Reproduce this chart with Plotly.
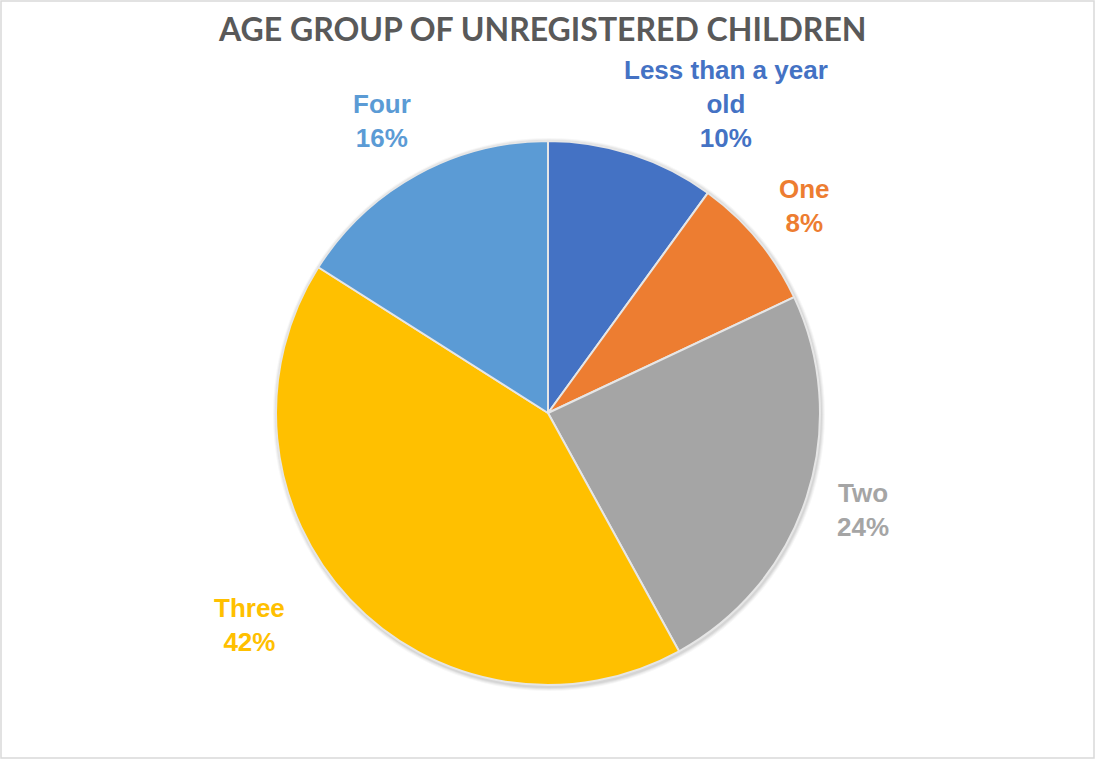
import plotly.graph_objects as go

# Age groups and their share of unregistered children (%)
categories = ["Less than a year old", "One", "Two", "Three", "Four"]
label_lines = ["Less than a year<br>old", "One", "Two", "Three", "Four"]
shares = [10, 8, 24, 42, 16]
colors = ["#4472C4", "#ED7D31", "#A5A5A5", "#FFC000", "#5B9BD5"]

W, H = 1095, 759
cx, cy, r = 548, 413, 272  # pie centre and radius in pixels

# Label anchor points (pixels) around the pie
label_pos = [(726, 104), (804, 206), (863, 510), (249, 625), (382, 121)]

fig = go.Figure()

fig.add_trace(go.Pie(
    labels=categories,
    values=shares,
    sort=False,
    direction="clockwise",
    rotation=0,
    marker=dict(colors=colors, line=dict(color="#E6E6E6", width=2)),
    textinfo="none",
    hoverinfo="label+percent",
    showlegend=False,
    domain=dict(x=[(cx - r) / W, (cx + r) / W],
                y=[1 - (cy + r) / H, 1 - (cy - r) / H]),
))

# soft drop shadow under the pie
shapes = []
for i, op in enumerate([0.05, 0.05, 0.04, 0.03]):
    d = i + 1
    shapes.append(dict(
        type="circle", xref="paper", yref="paper", layer="below",
        x0=(cx - r - d + 1) / W, x1=(cx + r + d + 1) / W,
        y0=1 - (cy + r + d + 2) / H, y1=1 - (cy - r - d + 1) / H,
        fillcolor=f"rgba(0,0,0,{op})", line=dict(width=0),
    ))
# chart area border
shapes.append(dict(
    type="rect", xref="paper", yref="paper",
    x0=1 / W, x1=1 - 1 / W, y0=1 / H, y1=1 - 1 / H,
    line=dict(color="#D9D9D9", width=1.5),
))

total = sum(shares)
annotations = []
for text, v, c, (px, py) in zip(label_lines, shares, colors, label_pos):
    annotations.append(dict(
        x=px / W, y=1 - py / H, xref="paper", yref="paper",
        text=f"<b>{text}<br>{round(100 * v / total)}%</b>",
        showarrow=False, align="center",
        xanchor="center", yanchor="middle",
        font=dict(family="Liberation Sans, Arial, sans-serif", size=26, color=c),
    ))

annotations.append(dict(
    x=542 / W, y=1 - 28.5 / H, xref="paper", yref="paper",
    text="<b>AGE GROUP OF UNREGISTERED CHILDREN</b>",
    showarrow=False, xanchor="center", yanchor="middle",
    font=dict(family="Lato, Calibri, sans-serif", size=32, color="#595959"),
))

fig.update_layout(
    width=W, height=H,
    margin=dict(l=0, r=0, t=0, b=0),
    paper_bgcolor="white",
    plot_bgcolor="white",
    shapes=shapes,
    annotations=annotations,
)

fig.write_html("out.html")
